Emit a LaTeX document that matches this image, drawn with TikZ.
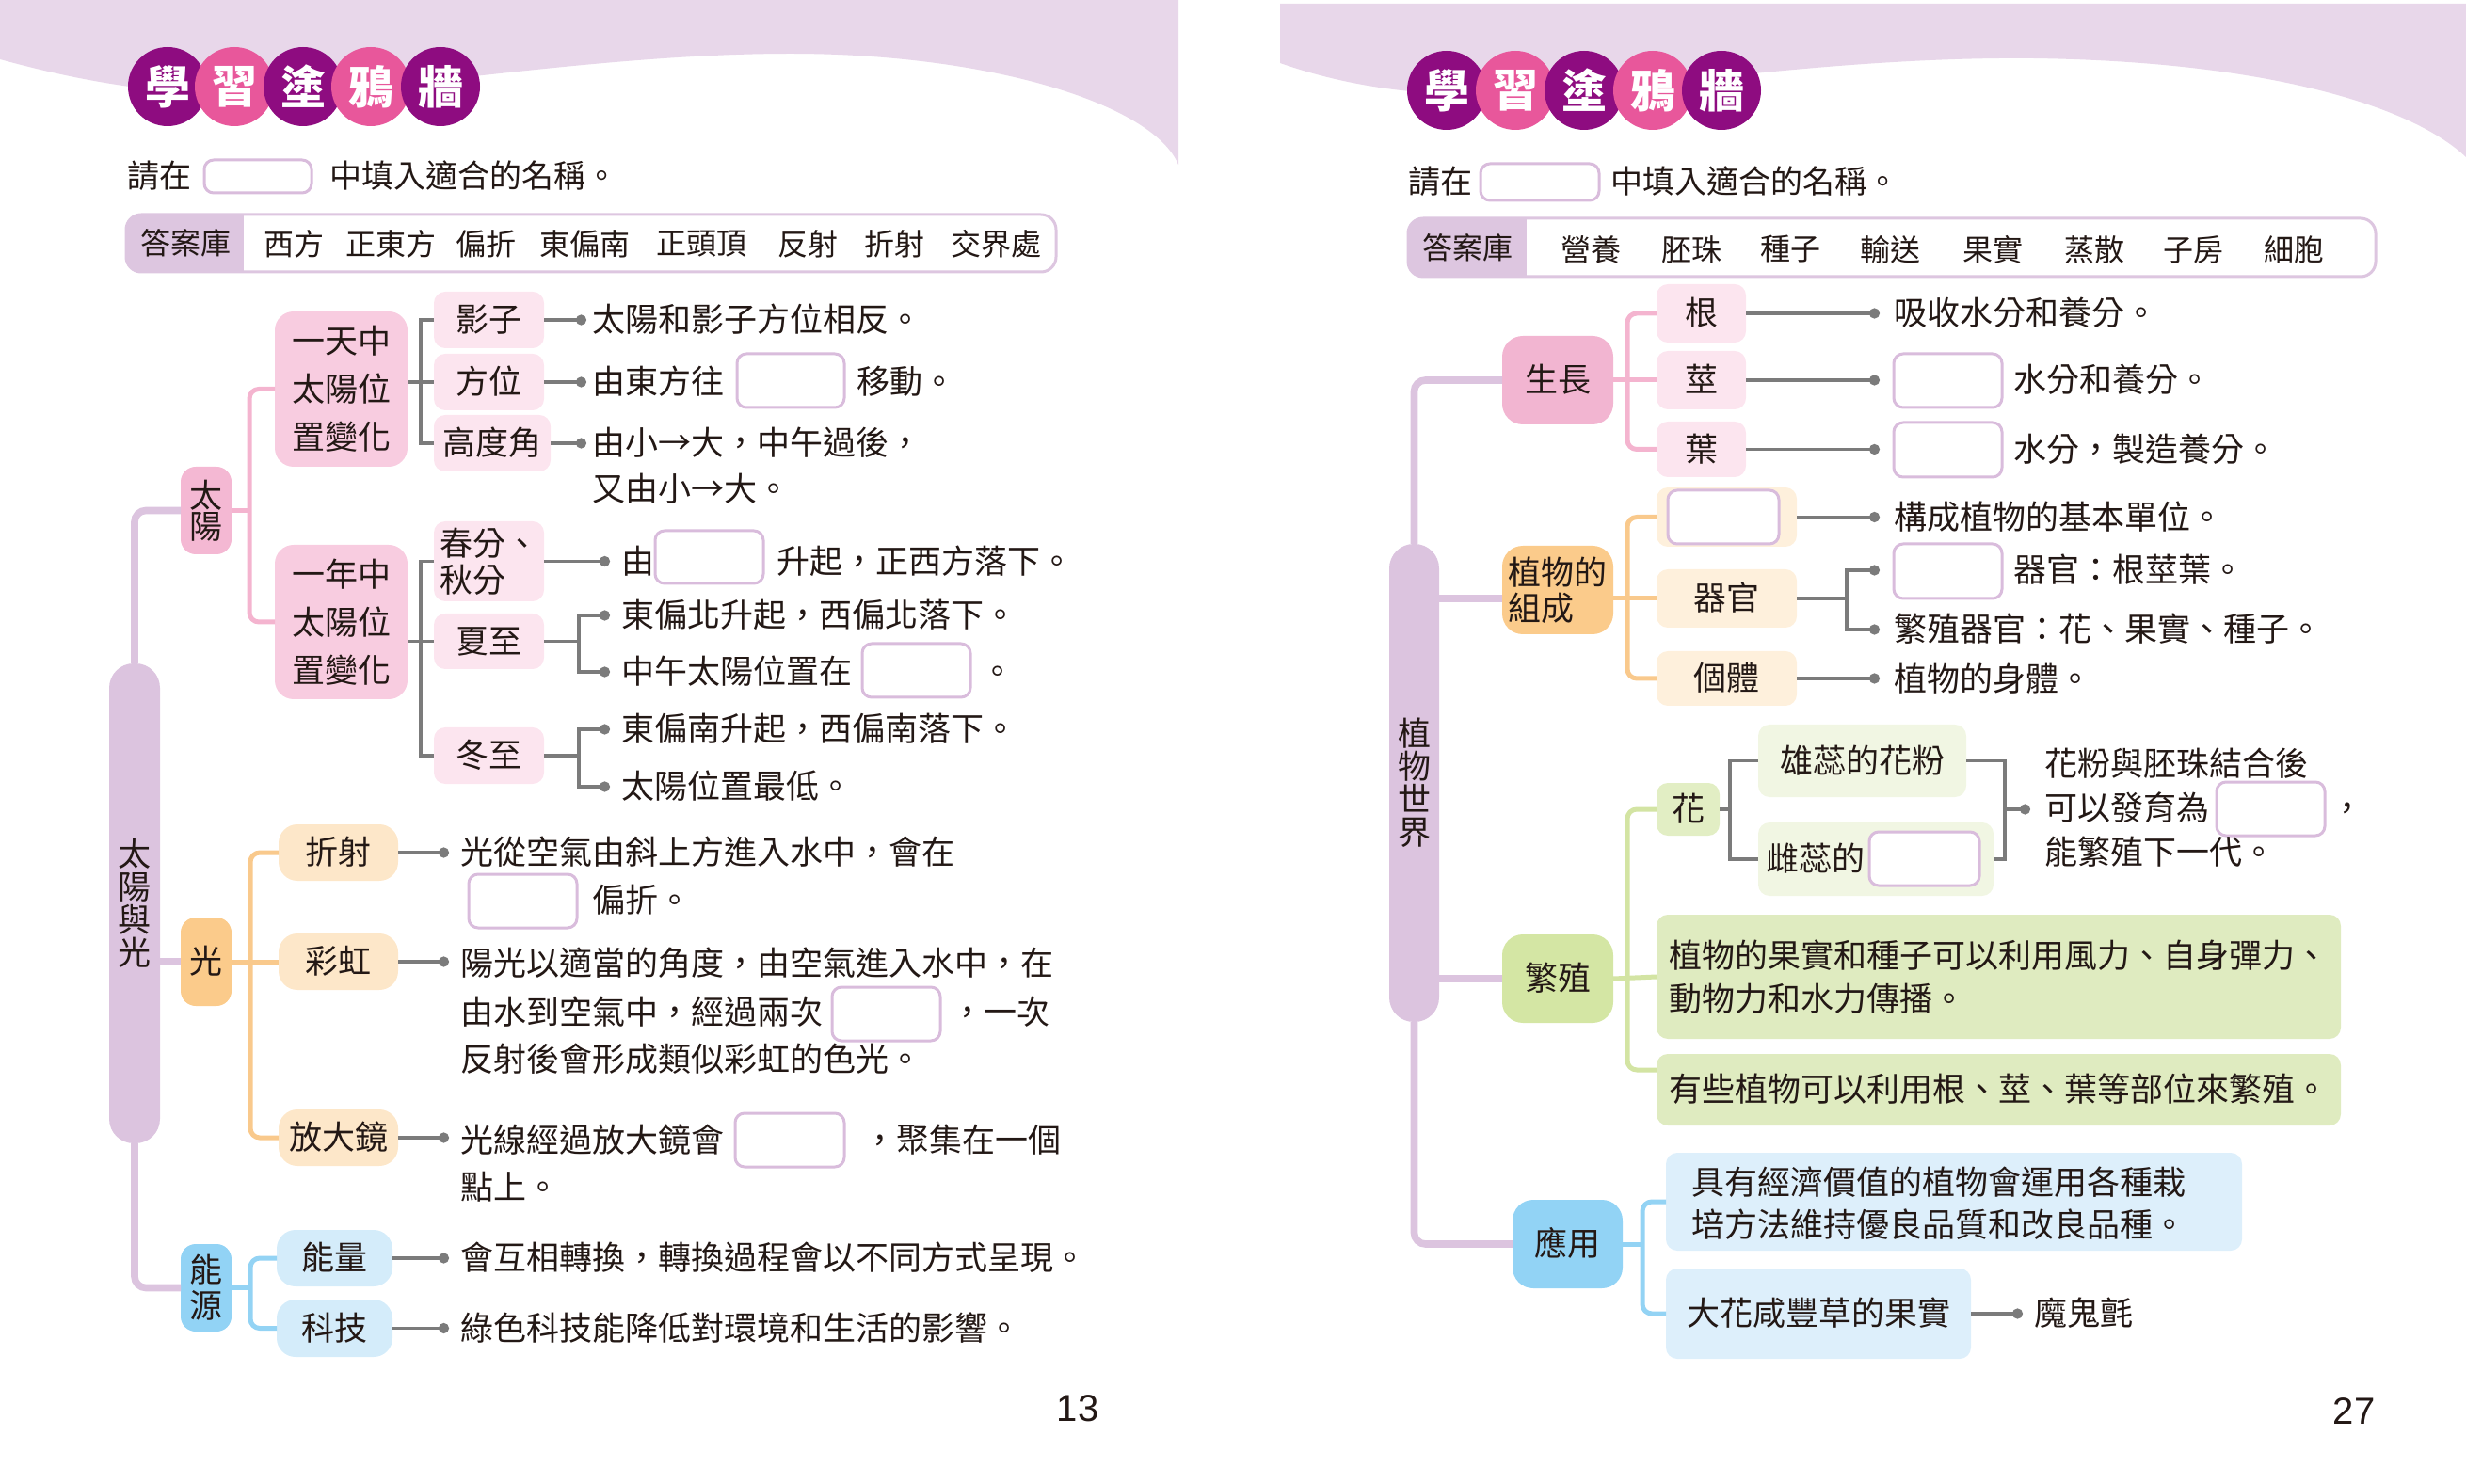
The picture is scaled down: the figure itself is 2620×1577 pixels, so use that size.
\documentclass[tikz,border=0pt]{standalone}
\usepackage{fontspec}
\setmainfont{Noto Sans CJK TC}
\newfontfamily\numfont{Liberation Sans}
\usetikzlibrary{arrows.meta,calc}

% palette
\definecolor{band}{HTML}{E8D7EA}
\definecolor{trunkc}{HTML}{DCC4DF}
\definecolor{discA}{HTML}{8E0C80}
\definecolor{discB}{HTML}{E8579B}
\definecolor{ink}{HTML}{231815}
\definecolor{wirec}{HTML}{7B7B7B}
\definecolor{blankc}{HTML}{D9BCDC}
\definecolor{bankc}{HTML}{DDC6E0}
\definecolor{sunA}{HTML}{F4B8D3}
\definecolor{sunB}{HTML}{F8CCE0}
\definecolor{sunC}{HTML}{FCE5EF}
\definecolor{sunLine}{HTML}{F4B4CF}
\definecolor{growA}{HTML}{F2B5D1}
\definecolor{lightA}{HTML}{FBCB8B}
\definecolor{lightB}{HTML}{FDE7C9}
\definecolor{compB}{HTML}{FEF0DC}
\definecolor{orangeLine}{HTML}{F9C98C}
\definecolor{blueA}{HTML}{92D3F5}
\definecolor{blueB}{HTML}{D4ECFA}
\definecolor{useB}{HTML}{DDEFFB}
\definecolor{blueLine}{HTML}{93D3F4}
\definecolor{greenA}{HTML}{D4E6A4}
\definecolor{greenB}{HTML}{E2EEC4}
\definecolor{greenC}{HTML}{F1F6E3}
\definecolor{greenD}{HTML}{DFEBC0}
\definecolor{greenLine}{HTML}{D3E4A3}

\newcommand{\bodysize}{\fontsize{17.5pt}{21pt}\selectfont}
% box given by its corners: name, style, x1, y1, x2, y2, text
\newcommand{\cellnode}[7]{%
  \node[#2, minimum width={(#5-#3)*0.5pt}, minimum height={(#6-#4)*0.5pt}] (#1) at ({(#3+#5)/2},{(#4+#6)/2}) {#7};}

\tikzset{
  cell/.style={inner sep=0pt, outer sep=0pt, text=ink, font=\bodysize},
  oneline/.style={text height=15.2pt, text depth=2.3pt},
  txt/.style={anchor=west, inner sep=0pt, outer sep=0pt, text=ink, font=\bodysize, oneline},
  rootbar/.style={cell, fill=trunkc, rounded corners=13pt},
  sunCat/.style={cell, fill=sunA, rounded corners=8pt},
  sunMid/.style={cell, fill=sunB, rounded corners=10pt},
  sunLeaf/.style={cell, fill=sunC, rounded corners=6pt},
  lightCat/.style={cell, fill=lightA, rounded corners=8pt},
  lightLeaf/.style={cell, fill=lightB, rounded corners=10pt},
  energyCat/.style={cell, fill=blueA, rounded corners=8pt},
  energyLeaf/.style={cell, fill=blueB, rounded corners=10pt},
  growCat/.style={cell, fill=growA, rounded corners=11pt},
  growLeaf/.style={cell, fill=sunC, rounded corners=6pt},
  compCat/.style={cell, fill=lightA, rounded corners=11pt},
  compLeaf/.style={cell, fill=compB, rounded corners=6pt},
  reproCat/.style={cell, fill=greenA, rounded corners=11pt},
  flowerBox/.style={cell, fill=greenB, rounded corners=6pt},
  pollenBox/.style={cell, fill=greenC, rounded corners=6pt},
  reproWide/.style={cell, fill=greenD, rounded corners=6pt},
  useCat/.style={cell, fill=blueA, rounded corners=11pt},
  useWide/.style={cell, fill=useB, rounded corners=6pt},
  blank/.style={cell, draw=blankc, line width=1.5pt, fill=white, rounded corners=5pt},
  bankframe/.style={cell, draw=bankc, line width=1.5pt, fill=white, rounded corners=8pt},
  banklabel/.style={inner sep=0pt, text=ink, font=\fontsize{16pt}{18pt}\selectfont},
  bankword/.style={inner sep=0pt, text=ink, font=\fontsize{16pt}{18pt}\selectfont},
  asktext/.style={txt, font=\fontsize{17pt}{20pt}\selectfont},
  titledisc/.style={circle, inner sep=0pt, minimum size=42pt, text=white,
    font=\bfseries\fontsize{24pt}{24pt}\selectfont},
  trunk/.style={draw=trunkc, line width=3.8pt},
  pinkline/.style={draw=sunLine, line width=2.5pt},
  orangeline/.style={draw=orangeLine, line width=2.5pt},
  blueline/.style={draw=blueLine, line width=2.5pt},
  greenline/.style={draw=greenLine, line width=2.5pt},
  wire/.style={draw=wirec, line width=1.6pt},
  dotwire/.style={wire, -{Circle[length=5.5pt]}},
  pagenum/.style={inner sep=0pt, text=ink, font=\numfont\fontsize{20pt}{24pt}\selectfont}
}

\begin{document}
\begin{tikzpicture}[x=0.5pt,y=-0.5pt]
\useasboundingbox (0,0) rectangle (2620,1577);

% ---------- page headers: lavender bands with a white wave ----------
\fill[band] (0,0) -- (1252,0) -- (1252,175)
  .. controls (1225,110) and (1050,57) .. (840,57)
  .. controls (650,57) and (450,92) .. (300,100)
  .. controls (180,105) and (80,85) .. (0,63) -- cycle;
\fill[band] (1360,4) -- (2620,4) -- (2620,167)
  .. controls (2560,110) and (2400,65) .. (2160,62)
  .. controls (1950,60) and (1750,95) .. (1620,100)
  .. controls (1500,105) and (1420,88) .. (1360,67) -- cycle;

% title discs
\foreach \x/\col/\ch [count=\i] in {178/discA/學,249/discB/習,322/discA/塗,394/discB/鴉,468/discA/牆}
  \node[titledisc, fill=\col] (titleL\i) at (\x,92) {\ch};
\foreach \x/\col/\ch [count=\i] in {1537/discA/學,1610/discB/習,1683/discA/塗,1756/discB/鴉,1829/discA/牆}
  \node[titledisc, fill=\col] (titleR\i) at (\x,96) {\ch};

% instructions
\node[asktext] (askL1) at (135,187) {請在};
\cellnode{askLbox}{blank}{217}{170}{331}{205}{}
\node[asktext] (askL2) at (350,187) {中填入適合的名稱。};
\node[asktext] (askR1) at (1496,193) {請在};
\cellnode{askRbox}{blank}{1573}{174}{1699}{213}{}
\node[asktext] (askR2) at (1711,193) {中填入適合的名稱。};

% answer banks
\cellnode{bankL}{bankframe}{134}{228}{1122}{289}{}
\begin{scope}
  \clip[rounded corners=8pt] (bankL.north west) rectangle (bankL.south east);
  \fill[bankc] (bankL.north west) rectangle (259,289);
\end{scope}
\node[banklabel] (bankLlab) at (197,258) {答案庫};
\foreach \x/\w [count=\i] in {312/西方,415/正東方,516/偏折,621/東偏南,745/正頭頂,858/反射,950/折射,1058/交界處}
  \node[bankword] (wordL\i) at (\x,259) {\w};

\cellnode{bankR}{bankframe}{1496}{232}{2524}{294}{}
\begin{scope}
  \clip[rounded corners=8pt] (bankR.north west) rectangle (bankR.south east);
  \fill[bankc] (bankR.north west) rectangle (1622,294);
\end{scope}
\node[banklabel] (bankRlab) at (1559,263) {答案庫};
\foreach \x/\w [count=\i] in {1690/營養,1797/胚珠,1902/種子,2008/輸送,2117/果實,2225/蒸散,2330/子房,2437/細胞}
  \node[bankword] (wordR\i) at (\x,265) {\w};

% ================= left map: 太陽與光 =================
\cellnode{rootL}{rootbar, align=center, font=\fontsize{17.5pt}{17.5pt}\selectfont}{116}{705}{170}{1215}{太\\陽\\與\\光}

\cellnode{taiyang}{sunCat, align=center, font=\fontsize{17.5pt}{16.5pt}\selectfont}{192}{496}{246}{589}{太\\陽}
\cellnode{yitian}{sunMid, align=center, font=\fontsize{17.5pt}{25.5pt}\selectfont}{292}{331}{433}{496}{一天中\\太陽位\\置變化}
\cellnode{yinian}{sunMid, align=center, font=\fontsize{17.5pt}{25.5pt}\selectfont}{292}{579}{433}{743}{一年中\\太陽位\\置變化}
\cellnode{yingzi}{sunLeaf, oneline}{461}{310}{578}{370}{影子}
\cellnode{fangwei}{sunLeaf, oneline}{461}{376}{578}{436}{方位}
\cellnode{gaodu}{sunLeaf, oneline}{461}{441}{585}{501}{高度角}
\cellnode{chunfen}{sunLeaf, align=left, font=\fontsize{17.5pt}{19.5pt}\selectfont}{461}{554}{578}{639}{春分、\\秋分}
\cellnode{xiazhi}{sunLeaf, oneline}{461}{652}{578}{711}{夏至}
\cellnode{dongzhi}{sunLeaf, oneline}{461}{773}{578}{833}{冬至}

\cellnode{guang}{lightCat, oneline}{192}{975}{246}{1069}{光}
\cellnode{zheshe}{lightLeaf, oneline}{296}{876}{423}{936}{折射}
\cellnode{caihong}{lightLeaf, oneline}{296}{992}{423}{1052}{彩虹}
\cellnode{fangda}{lightLeaf, oneline}{296}{1179}{423}{1239}{放大鏡}

\cellnode{nengyuan}{energyCat, align=center, font=\fontsize{17.5pt}{19pt}\selectfont}{192}{1322}{246}{1415}{能\\源}
\cellnode{nengliang}{energyLeaf, oneline}{294}{1307}{417}{1367}{能量}
\cellnode{keji}{energyLeaf, oneline}{294}{1381}{417}{1442}{科技}

% trunk
\draw[trunk, rounded corners=6pt] (rootL.north) |- (taiyang.west);
\draw[trunk, rounded corners=6pt] (rootL.south) |- (nengyuan.west);
\draw[trunk] (rootL.east |- guang.west) -- (guang.west);

% 太陽 branches
\coordinate (sunFork) at (265,542.5);
\draw[pinkline] (taiyang.east) -- (sunFork);
\draw[pinkline, rounded corners=5pt] (yitian.west) -| (sunFork) |- (yinian.west);
\coordinate (dayFork) at (447,406);
\draw[wire] (yitian.east |- fangwei.west) -- (fangwei.west);
\draw[wire] (yingzi.west) -| (dayFork) |- (gaodu.west);
\coordinate (yearFork) at (447,681.5);
\draw[wire] (yinian.east |- xiazhi.west) -- (xiazhi.west);
\draw[wire] (chunfen.west) -| (yearFork) |- (dongzhi.west);

% 光 branches
\coordinate (lightFork) at (266,1022);
\draw[orangeline] (guang.east) -- (caihong.west);
\draw[orangeline, rounded corners=5pt] (zheshe.west) -| (lightFork) |- (fangda.west);

% 能源 branches
\coordinate (energyFork) at (266,1368.5);
\draw[blueline] (nengyuan.east) -- (energyFork);
\draw[blueline, rounded corners=5pt] (nengliang.west) -| (energyFork) |- (keji.west);

% leaf statements, left
\coordinate (dYingzi) at (623,340);
\coordinate (dFangwei) at (623,406);
\coordinate (dGaodu) at (623,471);
\coordinate (dChunfen) at (648,596.5);
\coordinate (dXiaA) at (648,654);
\coordinate (dXiaB) at (648,714);
\coordinate (dDongA) at (648,775);
\coordinate (dDongB) at (648,836);
\draw[dotwire] (yingzi.east) -- (dYingzi);
\draw[dotwire] (fangwei.east) -- (dFangwei);
\draw[dotwire] (gaodu.east) -- (dGaodu);
\draw[dotwire] (chunfen.east) -- (dChunfen);
\draw[dotwire] (xiazhi.east) -- ++(37,0) |- (dXiaA);
\draw[dotwire] (xiazhi.east) -- ++(37,0) |- (dXiaB);
\draw[dotwire] (dongzhi.east) -- ++(37,0) |- (dDongA);
\draw[dotwire] (dongzhi.east) -- ++(37,0) |- (dDongB);

\node[txt] (sYingzi) at (629,340) {太陽和影子方位相反。};
\node[txt] (sFangwei1) at (629,406) {由東方往};
\cellnode{bFangwei}{blank}{783}{376}{897}{433}{}
\node[txt] (sFangwei2) at (910,406) {移動。};
\node[txt] (sGaodu1) at (629,471) {由小→大，中午過後，};
\node[txt] (sGaodu2) at (629,520) {又由小→大。};
\node[txt] (sChunfen1) at (660,596.5) {由};
\cellnode{bChunfen}{blank}{696}{564}{811}{620}{}
\node[txt] (sChunfen2) at (825,596.5) {升起，正西方落下。};
\node[txt] (sXia1) at (660,654) {東偏北升起，西偏北落下。};
\node[txt] (sXia2) at (660,714) {中午太陽位置在};
\cellnode{bXia}{blank}{916}{684}{1031}{741}{}
\node[txt] (sXia3) at (1042,714) {。};
\node[txt] (sDong1) at (660,775) {東偏南升起，西偏南落下。};
\node[txt] (sDong2) at (660,836) {太陽位置最低。};

\coordinate (dZheshe) at (477,906);
\coordinate (dCaihong) at (477,1022);
\coordinate (dFangda) at (477,1209);
\draw[dotwire] (zheshe.east) -- (dZheshe);
\draw[dotwire] (caihong.east) -- (dCaihong);
\draw[dotwire] (fangda.east) -- (dFangda);
\node[txt] (sZheshe1) at (489,906) {光從空氣由斜上方進入水中，會在};
\cellnode{bZheshe}{blank}{498}{929}{613}{986}{}
\node[txt] (sZheshe2) at (629,957) {偏折。};
\node[txt] (sCaihong1) at (489,1024) {陽光以適當的角度，由空氣進入水中，在};
\node[txt] (sCaihong2) at (489,1076) {由水到空氣中，經過兩次};
\cellnode{bCaihong}{blank}{884}{1049}{999}{1106}{}
\node[txt] (sCaihong3) at (1010,1076) {，一次};
\node[txt] (sCaihong4) at (489,1126) {反射後會形成類似彩虹的色光。};
\node[txt] (sFangda1) at (489,1212) {光線經過放大鏡會};
\cellnode{bFangda}{blank}{781}{1183}{897}{1240}{}
\node[txt] (sFangda2) at (917,1212) {，聚集在一個};
\node[txt] (sFangda3) at (489,1262) {點上。};

\coordinate (dNengliang) at (477,1337);
\coordinate (dKeji) at (477,1411.5);
\draw[dotwire] (nengliang.east) -- (dNengliang);
\draw[dotwire] (keji.east) -- (dKeji);
\node[txt] (sNengliang) at (489,1337) {會互相轉換，轉換過程會以不同方式呈現。};
\node[txt] (sKeji) at (489,1411.5) {綠色科技能降低對環境和生活的影響。};

% ================= right map: 植物世界 =================
\cellnode{rootR}{rootbar, align=center, font=\fontsize{17.5pt}{17.5pt}\selectfont}{1476}{578}{1529}{1086}{植\\物\\世\\界}

\cellnode{shengzhang}{growCat, oneline}{1596}{357}{1714}{451}{生長}
\cellnode{gen}{growLeaf, oneline}{1760}{302}{1855}{364}{根}
\cellnode{jing}{growLeaf, oneline}{1760}{373}{1855}{435}{莖}
\cellnode{ye}{growLeaf, oneline}{1760}{448}{1855}{507}{葉}

\cellnode{zucheng}{compCat, align=left, font=\fontsize{17.5pt}{19pt}\selectfont}{1596}{580}{1714}{674}{植物的\\組成}
\cellnode{cellbox}{compLeaf}{1760}{518}{1909}{581}{}
\cellnode{cellblank}{blank}{1772}{521}{1890}{578}{}
\cellnode{qiguan}{compLeaf, oneline}{1760}{605}{1909}{667}{器官}
\cellnode{geti}{compLeaf, oneline}{1760}{692}{1909}{750}{個體}

\cellnode{fanzhi}{reproCat, oneline}{1596}{993}{1714}{1087}{繁殖}
\cellnode{hua}{flowerBox, oneline}{1760}{832}{1827}{888}{花}
\cellnode{xiongrui}{pollenBox, oneline}{1868}{770}{2089}{847}{雄蕊的花粉}
\cellnode{cirui}{pollenBox}{1868}{874}{2118}{952}{}
\node[txt] (ciruiText) at (1876,913) {雌蕊的};
\cellnode{ciruiBlank}{blank}{1986}{884}{2103}{941}{}
\cellnode{spread}{reproWide, align=left, font=\fontsize{17.5pt}{23pt}\selectfont}{1760}{972}{2487}{1104}{植物的果實和種子可以利用風力、自身彈力、\\動物力和水力傳播。}
\cellnode{vegetative}{reproWide, oneline}{1760}{1120}{2487}{1196}{有些植物可以利用根、莖、葉等部位來繁殖。}

\cellnode{yingyong}{useCat, oneline}{1607}{1275}{1724}{1369}{應用}
\cellnode{breeding}{useWide}{1770}{1225}{2382}{1329}{}
\node[anchor=west, inner sep=0pt, text=ink, align=left, font=\fontsize{17.5pt}{22.5pt}\selectfont] (breedingText) at (1797,1278.5) {具有經濟價值的植物會運用各種栽\\培方法維持優良品質和改良品種。};
\cellnode{fruit}{useWide, oneline}{1770}{1348}{2094}{1444}{大花咸豐草的果實}

% trunk
\draw[trunk, rounded corners=6pt] (rootR.north) |- (shengzhang.west);
\draw[trunk, rounded corners=6pt] (rootR.south) |- (yingyong.west);
\draw[trunk] (rootR.east |- qiguan.west) -- (zucheng.west |- qiguan.west);
\draw[trunk] (rootR.east |- fanzhi.west) -- (fanzhi.west);

% 生長 branches
\coordinate (growFork) at (1729,404);
\draw[pinkline] (shengzhang.east) -- (jing.west);
\draw[pinkline, rounded corners=5pt] (gen.west) -| (growFork) |- (ye.west);
% 植物的組成 branches
\coordinate (compFork) at (1729,636);
\draw[orangeline] (zucheng.east |- qiguan.west) -- (qiguan.west);
\draw[orangeline, rounded corners=5pt] (cellbox.west) -| (compFork) |- (geti.west);
% 繁殖 branches
\coordinate (reproFork) at (1729,1040);
\draw[greenline] (fanzhi.east) -- (spread.west);
\draw[greenline, rounded corners=5pt] (hua.west) -| (reproFork) |- ($(vegetative.north west)+(0,17)$);
% 應用 branches
\coordinate (useFork) at (1745,1322);
\draw[blueline] (yingyong.east) -- (useFork);
\draw[blueline, rounded corners=5pt] (breeding.west) -| (useFork) |- (fruit.west);

% flower bracket
\coordinate (huaFork) at (1838,860);
\draw[wire] (hua.east) -- (huaFork);
\draw[wire] (xiongrui.west) -| (huaFork) |- (cirui.west);
\coordinate (pollenJoin) at (2130,860);
\draw[wire] (xiongrui.east) -| (pollenJoin) |- (cirui.east);

% leaf statements, right
\coordinate (dGen) at (1997,333);
\coordinate (dJing) at (1997,404);
\coordinate (dYe) at (1997,477.5);
\coordinate (dCell) at (1997,549.5);
\coordinate (dOrgA) at (1997,606);
\coordinate (dOrgB) at (1997,669);
\coordinate (dGeti) at (1997,721);
\coordinate (dHua) at (2157,860);
\coordinate (dFruit) at (2149,1396);
\draw[dotwire] (gen.east) -- (dGen);
\draw[dotwire] (jing.east) -- (dJing);
\draw[dotwire] (ye.east) -- (dYe);
\draw[dotwire] (cellbox.east) -- (dCell);
\draw[dotwire] (qiguan.east) -- ++(53,0) |- (dOrgA);
\draw[dotwire] (qiguan.east) -- ++(53,0) |- (dOrgB);
\draw[dotwire] (geti.east) -- (dGeti);
\draw[dotwire] (pollenJoin) -- (dHua);
\draw[dotwire] (fruit.east) -- (dFruit);

\node[txt] (sGen) at (2012,333) {吸收水分和養分。};
\cellnode{bJing}{blank}{2012}{376}{2127}{433}{}
\node[txt] (sJing) at (2139,404) {水分和養分。};
\cellnode{bYe}{blank}{2012}{449}{2127}{507}{}
\node[txt] (sYe) at (2139,478) {水分，製造養分。};
\node[txt] (sCell) at (2012,549.5) {構成植物的基本單位。};
\cellnode{bOrg}{blank}{2012}{578}{2127}{636}{}
\node[txt] (sOrgA) at (2139,606) {器官：根莖葉。};
\node[txt] (sOrgB) at (2012,669) {繁殖器官：花、果實、種子。};
\node[txt] (sGeti) at (2012,722) {植物的身體。};
\node[txt] (sHua1) at (2172,812) {花粉與胚珠結合後};
\node[txt] (sHua2) at (2172,859) {可以發育為};
\cellnode{bHua}{blank}{2355}{831}{2470}{888}{}
\node[txt] (sHua3) at (2476,859) {，};
\node[txt] (sHua4) at (2172,906) {能繁殖下一代。};
\node[txt] (sFruit) at (2161,1396) {魔鬼氈};

% page numbers
\node[pagenum] (pageL) at (1145,1497) {13};
\node[pagenum] (pageR) at (2501,1500) {27};
\end{tikzpicture}
\end{document}
